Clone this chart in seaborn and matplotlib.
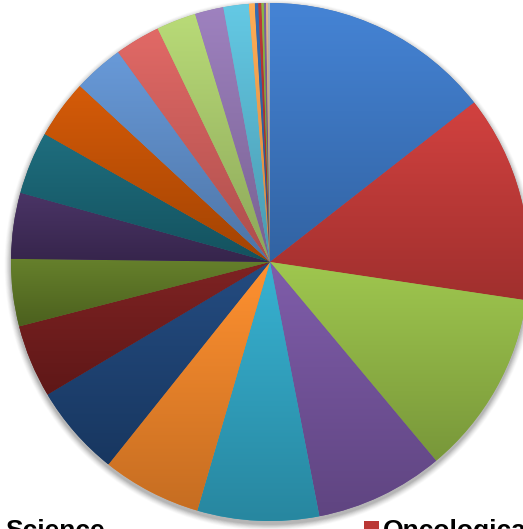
import numpy as np
import matplotlib
matplotlib.use("Agg")
import matplotlib.pyplot as plt
import matplotlib.colors as mcolors
from matplotlib.patches import Rectangle, Circle
import seaborn as sns

sns.set_theme(style="white")
plt.rcParams['font.family'] = ['Liberation Sans', 'DejaVu Sans']

# ---- data (share of the pie) ----
categories = ["Science", "Oncological", "C3", "C4", "C5", "C6", "C7", "C8", "C9",
              "C10", "C11", "C12", "C13", "C14", "C15", "C16", "C17", "C18",
              "C19", "C20", "C21", "C22", "C23", "C24"]
values = [52.0, 46.5, 41.6, 28.9, 27.3, 22.3, 20.6, 16.4, 15.1, 14.8, 14.1, 13.2,
          11.3, 10.2, 8.9, 6.4, 5.7, 1.3, 0.8, 0.7, 0.5, 0.5, 0.5, 0.4]
colors = ["#3A73BD", "#BA3735", "#8CB043", "#6F5096", "#2E9DBA", "#E67F27",
          "#1C4070", "#6E1B1B", "#587023", "#3F2B58", "#175F6E", "#BD4E03",
          "#5A87C0", "#C85B58", "#A3C268", "#8B71A9", "#56B2CB", "#F79A4A",
          "#2C5E9E", "#A8302F", "#7BA33A", "#6E558E", "#C9A57A", "#9AA3AD"]
legend_labels = ["Science", "Oncological"]

W, H = 523, 529
fig = plt.figure(figsize=(W / 100, H / 100), dpi=100)
ax = fig.add_axes([0, 0, 1, 1])

cx, cy, r = 270, H - 262, 259

# soft shadow under the pie
for k, a in zip(range(8, 0, -1), np.linspace(0.02, 0.06, 8)):
    ax.add_patch(Circle((cx, cy - 3), r + k * 0.8, color="black", alpha=a, lw=0, zorder=0))

wedges, _ = ax.pie(values, colors=colors, startangle=90, counterclock=False,
                   center=(cx, cy), radius=r, wedgeprops=dict(linewidth=0))

# vertical gradient per slice (lighter top, darker bottom)
for w, c in zip(wedges, colors):
    base = np.array(mcolors.to_rgb(c))
    top = np.clip(base * 1.10 + 0.02, 0, 1)
    bot = np.clip(base * 0.86, 0, 1)
    t = np.linspace(0, 1, 64)[:, None]
    grad = top[None, :] * (1 - t) + bot[None, :] * t
    img = grad[:, None, :]
    bb = w.get_path().get_extents(w.get_patch_transform())
    im = ax.imshow(img, extent=(bb.x0, bb.x1, bb.y0, bb.y1), origin="upper",
                   aspect="auto", interpolation="bilinear", zorder=w.get_zorder() + 0.1)
    im.set_clip_path(w)

ax.set_xlim(0, W)
ax.set_ylim(0, H)
ax.set_aspect("equal")
ax.axis("off")

# legend (clipped at the bottom of the picture)
fs = 19
fig.text(5 / W, (H - 538) / H, legend_labels[0], fontsize=fs, fontweight="bold",
         ha="left", va="baseline", color="black")
fig.patches.append(Rectangle((364 / W, (H - 536) / H), 15 / W, 15 / H,
                             transform=fig.transFigure, facecolor=colors[1],
                             edgecolor="none", figure=fig))
fig.text(383 / W, (H - 538) / H, legend_labels[1], fontsize=fs, fontweight="bold",
         ha="left", va="baseline", color="black")

fig.savefig("out.png", dpi=100)
